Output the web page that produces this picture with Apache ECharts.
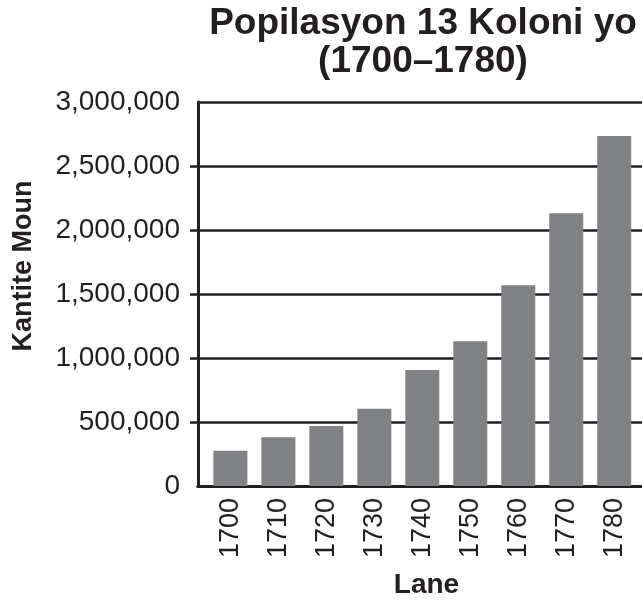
<!DOCTYPE html>
<html>
<head>
<meta charset="utf-8">
<title>Popilasyon 13 Koloni yo</title>
<script src="https://cdn.jsdelivr.net/npm/echarts@6/dist/echarts.min.js"></script>
<style>
    html, body { margin: 0; padding: 0; background: #fff; }
    #Echarts1 { width: 642px; height: 602px; }
</style>
</head>
<body>
<div id="Echarts1"></div>
<script>
/************** 数据 ***************/
var years = [1700, 1710, 1720, 1730, 1740, 1750, 1760, 1770, 1780];
var population = [275000, 380000, 468000, 604000, 906000, 1130000, 1568000, 2130000, 2735000];
var yLabels = [0, 500000, 1000000, 1500000, 2000000, 2500000, 3000000];
var yTicks = [500000, 1000000, 1500000, 2000000, 2500000];

var titleText = 'Popilasyon 13 Koloni yo\n(1700\u20131780)';
var xName = 'Lane';
var yName = 'Kantite Moun';

var ink = '#231f20';
var font = 'Liberation Sans';

/*************** 初始化 *********************/
initChart();

function initChart() {
    var myChart = echarts.init(document.getElementById('Echarts1'));

    // 柱子数据: [年份, 人口]
    var barData = years.map(function (y, i) { return [y, population[i]]; });

    var option = {
        animation: false,
        title: {
            text: titleText,
            left: 423,
            top: 5,
            padding: 0,
            textAlign: 'center',
            textStyle: {
                fontFamily: font,
                fontWeight: 'bold',
                fontSize: 37,
                lineHeight: 38,
                color: ink
            }
        },
        grid: {
            left: 198,
            top: 102,
            width: 457,
            bottom: 116,
            containLabel: false,
            outerBoundsMode: 'none'
        },
        xAxis: [
            {
                type: 'value',
                min: 1693.25,
                max: 1788.5,
                name: xName,
                nameLocation: 'middle',
                nameGap: 85,
                nameTextStyle: { fontFamily: font, fontWeight: 'bold', fontSize: 28, color: ink },
                axisLine: { show: true, lineStyle: { color: ink, width: 3 } },
                axisTick: { show: false },
                splitLine: { show: false },
                axisLabel: {
                    customValues: years,
                    rotate: 90,
                    margin: 12,
                    fontFamily: font,
                    fontSize: 27,
                    color: ink,
                    formatter: function (v) { return String(v); }
                }
            },
            {
                // 顶部边框
                type: 'value',
                position: 'top',
                min: 1693.25,
                max: 1788.5,
                axisLine: { show: true, lineStyle: { color: ink, width: 3 } },
                axisTick: { show: false },
                axisLabel: { show: false },
                splitLine: { show: false }
            }
        ],
        yAxis: [
            {
                type: 'value',
                min: 0,
                max: 3000000,
                interval: 500000,
                name: yName,
                nameLocation: 'middle',
                nameRotate: 90,
                nameGap: 161,
                nameTextStyle: {
                    fontFamily: font, fontWeight: 'bold', fontSize: 27, color: ink,
                    padding: [0, 0, 0, 56]
                },
                axisLine: { show: true, lineStyle: { color: ink, width: 3 } },
                axisTick: { show: false },
                splitLine: { show: true, lineStyle: { color: ink, width: 2.5 } },
                axisLabel: {
                    margin: 18,
                    fontFamily: font,
                    fontSize: 28,
                    color: ink,
                    formatter: function (v) { return v.toLocaleString('en-US'); }
                }
            },
            {
                // 刻度线: 向左偏移的副轴, 其分割线即为刻度
                type: 'value',
                position: 'left',
                offset: 8,
                min: 0,
                max: 3000000,
                interval: 500000,
                axisLine: { show: true, lineStyle: { color: ink, width: 1, opacity: 0 } },
                axisLabel: { show: false },
                splitLine: { show: false },
                axisTick: {
                    show: true,
                    inside: true,
                    customValues: yTicks,
                    length: 8,
                    lineStyle: { color: ink, width: 2.5 }
                }
            }
        ],
        series: [
            {
                type: 'bar',
                barWidth: 34,
                itemStyle: { color: '#818285' },
                data: barData
            }
        ]
    };

    myChart.setOption(option);
}
</script>
</body>
</html>
